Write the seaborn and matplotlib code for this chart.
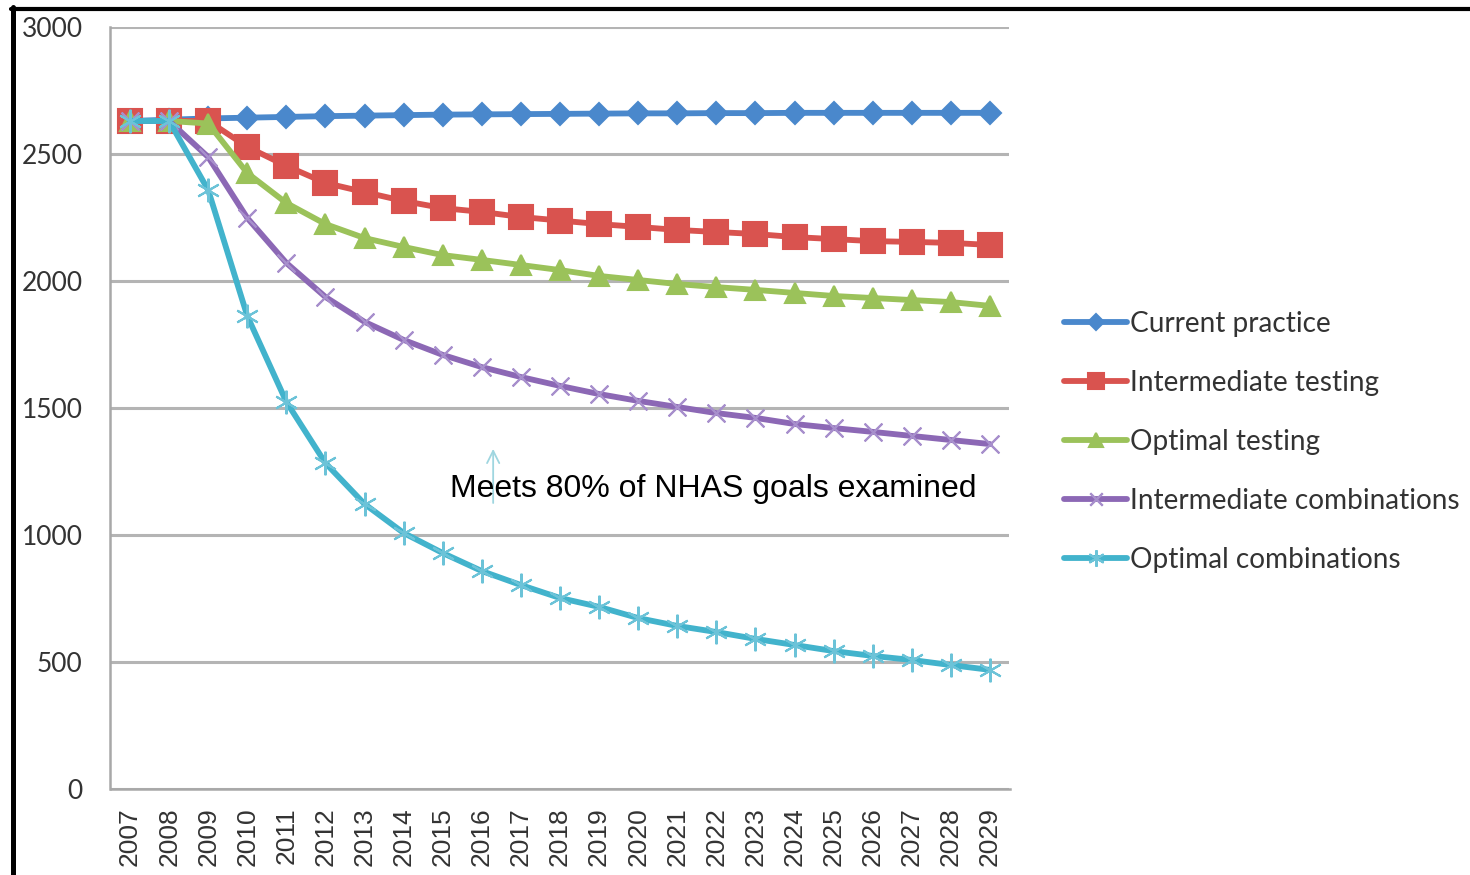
import seaborn as sns
import matplotlib

matplotlib.use("Agg")
from matplotlib import pyplot as plt
from matplotlib.lines import Line2D

years = list(range(2007, 2030))

current_practice = [2630, 2635, 2640, 2643, 2646, 2649, 2651, 2653, 2655, 2656, 2657, 2658, 2659,
                    2660, 2660, 2661, 2661, 2662, 2662, 2662, 2662, 2662, 2662]
intermediate_testing = [2630, 2630, 2630, 2528, 2453, 2386, 2350, 2315, 2287, 2272, 2252, 2238,
                        2224, 2213, 2201, 2193, 2185, 2173, 2165, 2157, 2154, 2150, 2142]
optimal_testing = [2630, 2630, 2620, 2425, 2307, 2224, 2169, 2134, 2102, 2083, 2063, 2043,
                   2020, 2004, 1988, 1976, 1965, 1953, 1941, 1933, 1925, 1917, 1902]
intermediate_combinations = [2630, 2630, 2488, 2248, 2071, 1937, 1839, 1768, 1709, 1661, 1622,
                             1587, 1555, 1528, 1504, 1480, 1461, 1437, 1421, 1406, 1390, 1374, 1358]
optimal_combinations = [2630, 2630, 2358, 1862, 1524, 1283, 1122, 1008, 929, 858, 803, 752, 717,
                        673, 642, 618, 591, 567, 543, 524, 508, 488, 469]

series_names = ["Current practice", "Intermediate testing", "Optimal testing",
                "Intermediate combinations", "Optimal combinations"]
series_values = [current_practice, intermediate_testing, optimal_testing,
                 intermediate_combinations, optimal_combinations]
y_ticks = [0, 500, 1000, 1500, 2000, 2500, 3000]
note = "Meets 80% of NHAS goals examined"

colors = ["#4a88cc", "#d9534f", "#9bc25a", "#8c68b5", "#42b3cc"]
marker_colors = ["#4a88cc", "#d9534f", "#9bc25a", "#a78fcc", "#6cc3d8"]
markers = ["D", "s", "^", (4, 2, 45), (6, 2, 0)]
marker_sizes = [11, 17, 15, 18, 17]

sns.set_theme(style="white")
plt.rcParams["font.family"] = ["Lato", "DejaVu Sans"]

fig = plt.figure(figsize=(14.7, 8.75), dpi=100)
ax = fig.add_axes([110.5 / 1470, 1 - 789 / 875, (1009.5 - 110.5) / 1470, (789 - 27) / 875])

# one call per series so each keeps its own marker size
for i, (name, vals) in enumerate(zip(series_names, series_values)):
    sns.lineplot(x=years, y=vals, ax=ax, color=colors[i], lw=4.2, marker=markers[i],
                 markersize=marker_sizes[i], markerfacecolor=marker_colors[i],
                 markeredgecolor=marker_colors[i], markeredgewidth=1.5, label=name, zorder=3 + i)

ax.set_xlim(2006.5, 2029.5)
ax.set_ylim(0, 3000)
ax.set_yticks(y_ticks)
ax.set_yticklabels([str(v) for v in y_ticks])
ax.set_xticks(years)
ax.set_xticklabels([str(y) for y in years], rotation=90,
                   family=["Liberation Sans", "DejaVu Sans"])
ax.set_xticks([y + 0.5 for y in [2006] + years], minor=True)
ax.tick_params(axis="x", which="major", length=0, pad=13, labelsize=19, labelcolor="#333333")
ax.tick_params(axis="x", which="minor", length=7, color="#a0a0a0", width=1.5, direction="out")
ax.tick_params(axis="y", length=6, color="#a0a0a0", width=1.5, direction="out", pad=14,
               labelsize=19, labelcolor="#333333")
ax.grid(axis="y", color="#b4b4b4", lw=2.2)
ax.grid(axis="x", visible=False)
for side in ["top", "right"]:
    ax.spines[side].set_visible(False)
for side in ["left", "bottom"]:
    ax.spines[side].set_color("#a8a8a8")
    ax.spines[side].set_linewidth(1.8)

ax.annotate("", xy=(2016.29, 1350), xytext=(2016.29, 1115),
            arrowprops=dict(arrowstyle="->", color="#9fd6e0", lw=1.3, mutation_scale=22), zorder=9)
ax.text(2015.19, 1181, note, fontsize=23, family=["Liberation Sans", "DejaVu Sans"],
        color="black", va="center", ha="left", zorder=10)

handles = [Line2D([0], [0], color=colors[i], lw=4.2, marker=markers[i], markersize=marker_sizes[i] * 0.7,
                  markerfacecolor=marker_colors[i], markeredgecolor=marker_colors[i], markeredgewidth=1.5)
           for i in range(len(series_names))]
ax.legend(handles, series_names, loc="center left", bbox_to_anchor=(1053 / 1470, 1 - 442 / 875),
          bbox_transform=fig.transFigure, frameon=False, fontsize=20.2, handlelength=2.25,
          handletextpad=0.1, labelspacing=1.18, labelcolor="#333333", borderaxespad=0)

fig.add_artist(Line2D([12.5 / 1470, 12.5 / 1470], [0, 1 - 7 / 875], color="black", lw=3.6,
                      transform=fig.transFigure))
fig.add_artist(Line2D([10.5 / 1470, 1], [1 - 9 / 875, 1 - 9 / 875], color="black", lw=3,
                      transform=fig.transFigure))

fig.savefig("out.png", dpi=100)
